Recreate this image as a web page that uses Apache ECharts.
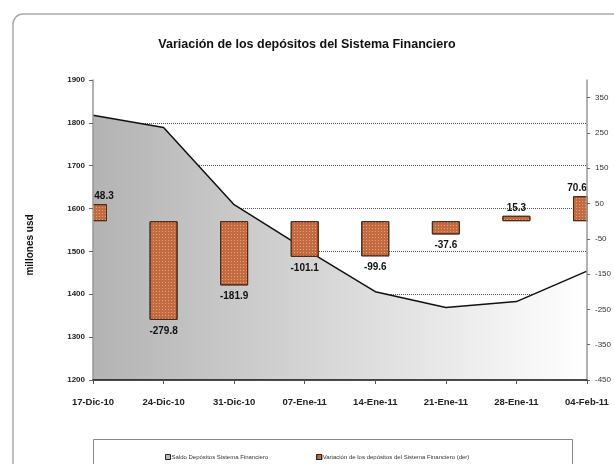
<!DOCTYPE html>
<html>
<head>
<meta charset="utf-8">
<script src="https://cdn.jsdelivr.net/npm/echarts@6/dist/echarts.min.js"></script>
<style>
    html, body { margin: 0; padding: 0; background: #fff; }
    #chart01 { width: 614px; height: 464px; }
</style>
</head>
<body>
<div id="chart01"></div>
<script>
// datos del grafico
var fechas = ["17-Dic-10", "24-Dic-10", "31-Dic-10", "07-Ene-11", "14-Ene-11", "21-Ene-11", "28-Ene-11", "04-Feb-11"];
var saldo = [1818, 1789, 1609, 1506, 1406, 1369, 1383, 1454];
var variacion = [48.3, -279.8, -181.9, -101.1, -99.6, -37.6, 15.3, 70.6];
var nombreSaldo = "Saldo Depósitos Sistema Financiero";
var nombreVar = "Variación de los depósitos del Sistema Financiero (der)";

var fuente = "Arial, 'Liberation Sans', sans-serif";

// etiquetas de las barras: arriba si es positivo, abajo si es negativo
var datosVar = variacion.map(function (v, i) {
    var off = 0;
    if (i === 0) off = 11;
    if (i === variacion.length - 1) off = -10;
    return {
        value: v,
        label: {
            position: v >= 0 ? "top" : "bottom",
            distance: v >= 0 ? 3 : 6,
            offset: [off, 0]
        }
    };
});

var myChart01 = echarts.init(document.getElementById('chart01'));
var option = {
    backgroundColor: "#fff",
    animation: false,
    textStyle: { fontFamily: fuente },
    title: {
        text: "Variación de los depósitos del Sistema Financiero",
        left: "center",
        top: 33,
        textStyle: { fontSize: 12.5, fontWeight: "bold", color: "#111", fontFamily: fuente }
    },
    graphic: [
        {
            type: "rect",
            shape: { x: 13, y: 14, width: 640, height: 480, r: 10 },
            style: { fill: null, stroke: "#aaa", lineWidth: 1.5 },
            z: -1
        },
        {
            type: "rect",
            shape: { x: 93.5, y: 439.5, width: 479, height: 60 },
            style: { fill: null, stroke: "#888", lineWidth: 1 },
            z: -1
        },
        // tapa lo que sobresale de las barras fuera del area de trazado
        {
            type: "rect",
            shape: { x: 60, y: 80, width: 33, height: 300 },
            style: { fill: "#fff" },
            z: 5
        },
        {
            type: "rect",
            shape: { x: 588, y: 80, width: 20, height: 300 },
            style: { fill: "#fff" },
            z: 5
        }
    ],
    legend: {
        left: 160,
        top: 449,
        itemWidth: 5,
        itemHeight: 5,
        itemGap: 48,
        textStyle: { fontSize: 6, color: "#333", padding: [0, 0, 0, -4] },
        data: [
            { name: nombreSaldo, icon: "rect", itemStyle: { color: "#bbb", borderColor: "#222", borderWidth: 1 } },
            { name: nombreVar, icon: "rect", itemStyle: { color: "#c46a40", borderColor: "#222", borderWidth: 1 } }
        ]
    },
    grid: {
        left: 93,
        right: 27,
        top: 80,
        bottom: 84
    },
    xAxis: [
        {
            type: "category",
            boundaryGap: false,
            data: fechas,
            z: 6,
            axisLine: { onZero: false, lineStyle: { color: "#111", width: 1.5 } },
            axisTick: { show: true, length: 4, lineStyle: { color: "#555" } },
            axisLabel: { fontSize: 9.5, fontWeight: "bold", color: "#222", margin: 17 }
        }
    ],
    yAxis: [
        {
            // eje izquierdo (etiquetas, encima de la tapa)
            type: "value",
            min: 1200,
            max: 1900,
            interval: 100,
            z: 6,
            name: "millones usd",
            nameLocation: "middle",
            nameGap: 58,
            nameTextStyle: { fontSize: 10, fontWeight: "bold", color: "#111", padding: [0, 0, 0, -30] },
            axisLine: { show: true, onZero: false, lineStyle: { color: "#999", width: 1.5 } },
            axisTick: { show: true, length: 4, lineStyle: { color: "#666" } },
            axisLabel: {
                fontSize: 8, fontWeight: "bold", color: "#222", margin: 8,
                formatter: function (v) { return String(v); }
            },
            splitLine: { show: false }
        },
        {
            // eje derecho
            type: "value",
            min: -450,
            max: 400,
            interval: 100,
            position: "right",
            z: 6,
            axisLine: { show: true, onZero: false, lineStyle: { color: "#999", width: 1.5 } },
            axisTick: { show: true, length: 3, lineStyle: { color: "#666" } },
            axisLabel: {
                fontSize: 8, color: "#333", margin: 8, showMaxLabel: false,
                formatter: function (v) { return String(v); }
            },
            splitLine: { show: false }
        },
        {
            // solo la cuadricula, debajo de las series
            type: "value",
            min: 1200,
            max: 1900,
            interval: 100,
            position: "left",
            z: 0,
            axisLine: { show: false },
            axisTick: { show: false },
            axisLabel: { show: false },
            splitLine: {
                show: true,
                showMaxLine: false,
                showMinLine: false,
                lineStyle: { color: "#555", type: [1, 1], width: 1 }
            }
        }
    ],
    series: [
        {
            name: nombreSaldo,
            type: "line",
            data: saldo,
            showSymbol: false,
            lineStyle: { color: "#111", width: 1.5 },
            itemStyle: { color: "#bbb" },
            areaStyle: {
                opacity: 1,
                color: new echarts.graphic.LinearGradient(0, 0, 1, 0, [
                    { offset: 0, color: "#b3b3b3" },
                    { offset: 1, color: "#ffffff" }
                ])
            },
            z: 1
        },
        {
            name: nombreVar,
            type: "bar",
            yAxisIndex: 1,
            data: datosVar,
            barWidth: 28,
            itemStyle: {
                color: "#c46a40",
                borderColor: "#4a2a1a",
                borderWidth: 1,
                decal: {
                    symbol: "rect",
                    symbolSize: 1,
                    color: "rgba(250,205,170,0.6)",
                    dashArrayX: [1, 2],
                    dashArrayY: [1, 2]
                }
            },
            label: {
                show: true,
                fontSize: 10,
                fontWeight: "bold",
                color: "#111"
            },
            z: 3
        }
    ]
};
// cargar datos
myChart01.setOption(option);
</script>
</body>
</html>
